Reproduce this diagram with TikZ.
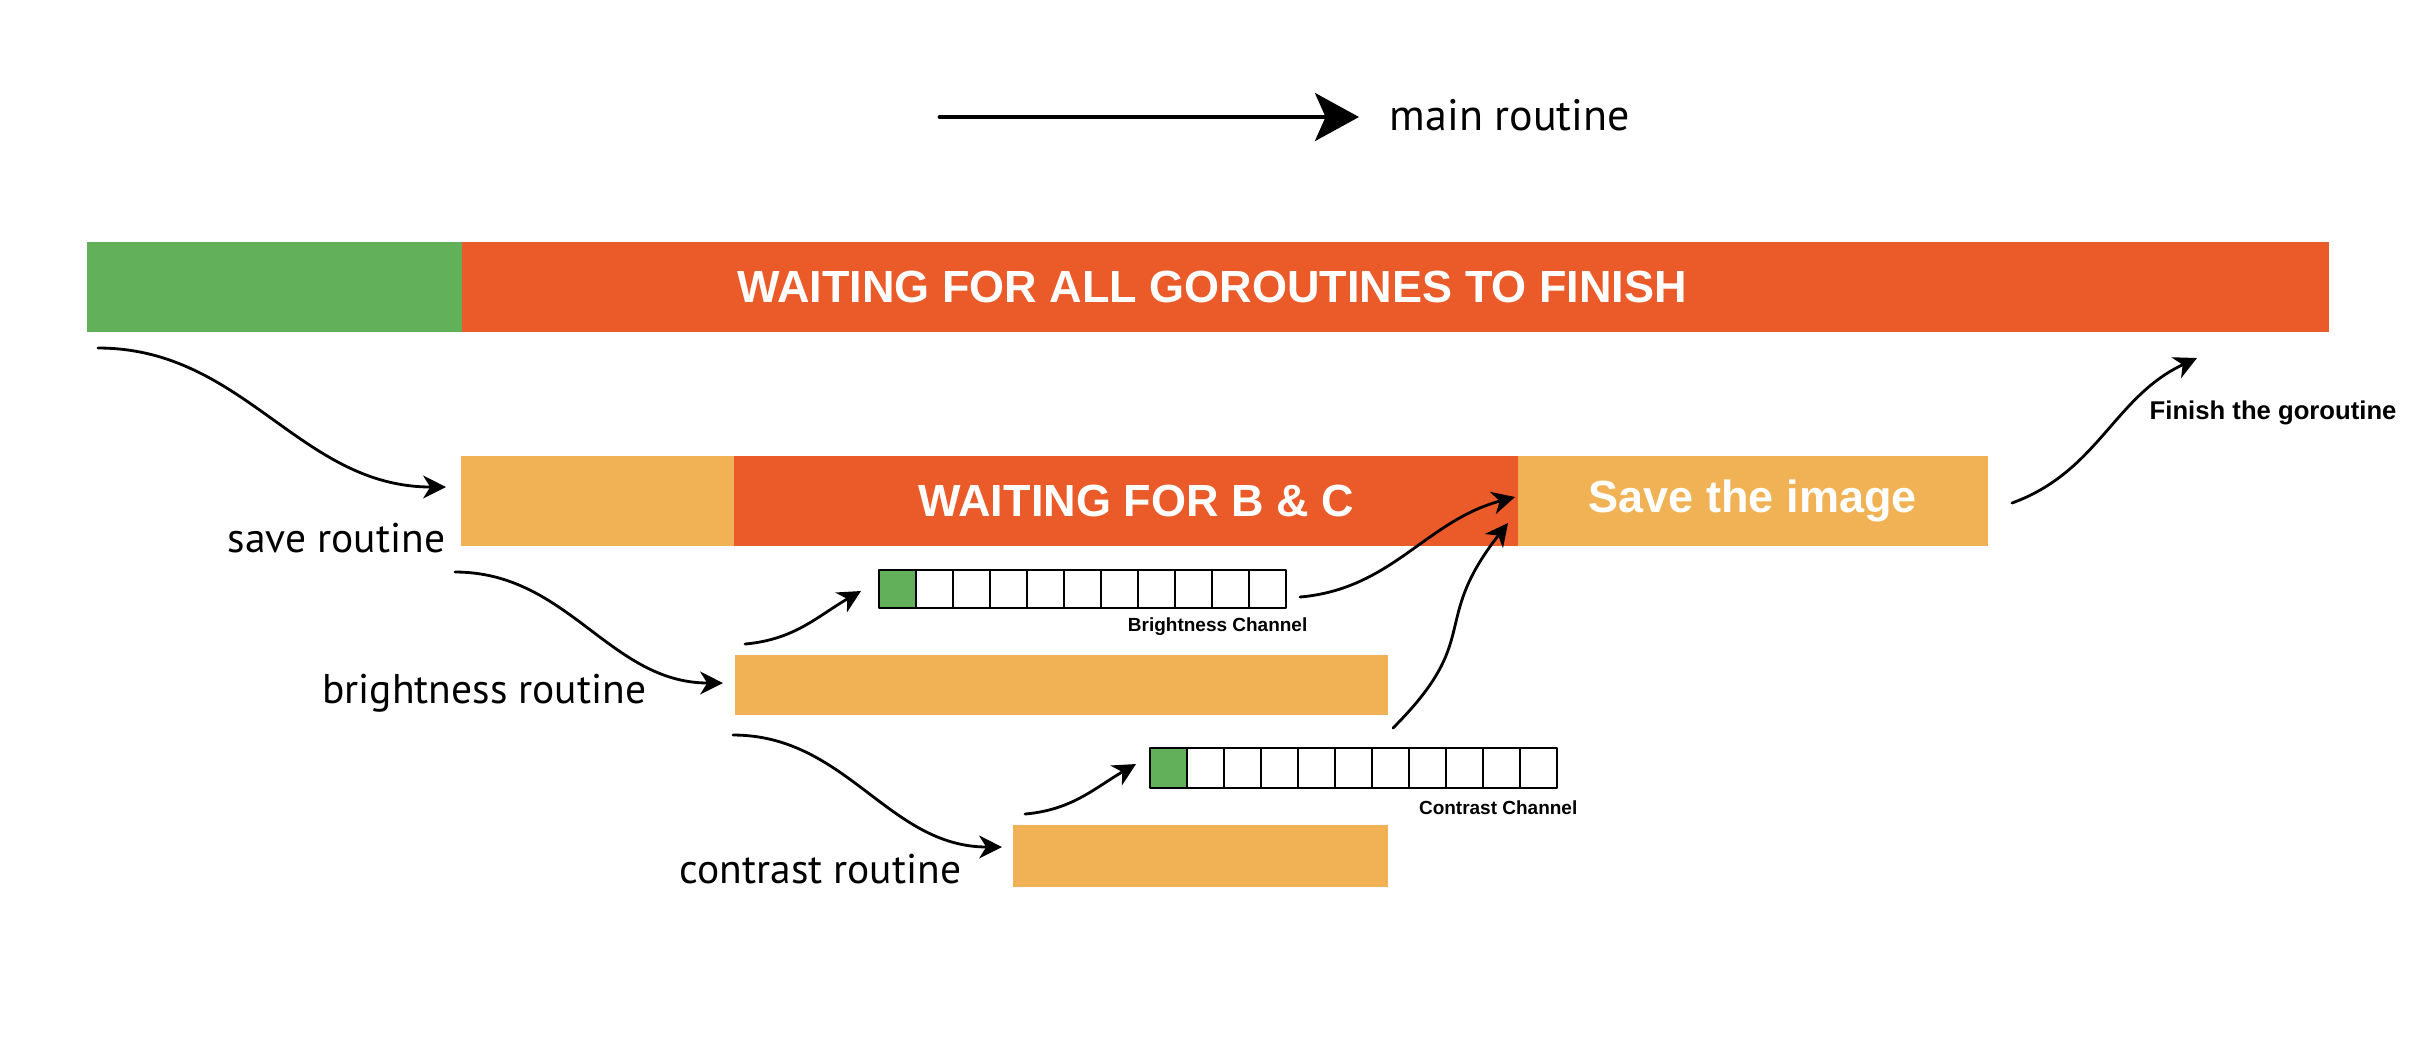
\documentclass[tikz,border=0pt]{standalone}
\usepackage{fontspec}
\setmainfont{PT Sans}
\newfontfamily\helv{Liberation Sans}
\usetikzlibrary{arrows.meta}
\definecolor{goGreen}{RGB}{98,177,90}
\definecolor{goRed}{RGB}{235,90,41}
\definecolor{goOrange}{RGB}{240,178,84}
\tikzset{
  bar/.style={anchor=north west, inner sep=0pt, outer sep=0pt, minimum height=#1},
  bartext/.style={text=white, font=\helv\bfseries\fontsize{12.8}{14}\selectfont},
  routine/.style={inner sep=0pt, font=\fontsize{11.8}{14}\selectfont},
  chlabel/.style={inner sep=0pt, font=\helv\bfseries\fontsize{5.4}{6}\selectfont},
  cell/.style={line width=0.55pt},
  flow/.style={line width=0.8pt, -{Stealth[length=6.5pt, width=6.5pt, inset=2pt]}}
}
\begin{document}
\begin{tikzpicture}[x=0.01cm, y=0.01cm, line cap=round, line join=round]
\useasboundingbox (0,0) rectangle (2428,-1044);
% main routine legend
\node[routine, font=\fontsize{12.5}{15}\selectfont, anchor=base west] (mainlbl) at (1389,-130) {main routine};
\coordinate (mainS) at (940,-117);
\coordinate (mainE) at (1359,-117);
\draw[line width=1.4pt, -{Stealth[length=12.5pt, width=13.6pt, inset=3pt]}] (mainS)--(mainE);
% main goroutine
\node[bar=0.9cm, fill=goGreen, minimum width=3.75cm] (mainrun) at (87,-242) {};
\node[bar=0.9cm, fill=goRed, minimum width=18.66cm] (mainwait) at (mainrun.north east) {};
\node[bartext] (waitall) at (1212,-287) {WAITING FOR ALL GOROUTINES TO FINISH};
% save routine
\node[bar=0.9cm, fill=goOrange, minimum width=2.73cm] (saverun) at (461,-456) {};
\node[bar=0.9cm, fill=goRed, minimum width=7.83cm] (savewait) at (saverun.north east) {};
\node[bartext] (waitbc) at (1136,-501) {WAITING FOR B \& C};
\node[bar=0.9cm, fill=goOrange, minimum width=4.70cm, bartext] (savedo) at (savewait.north east) {Save the image};
\node[routine, anchor=base east] (savelbl) at (446,-552) {save routine};
% brightness and contrast routines
\node[bar=0.6cm, fill=goOrange, minimum width=6.53cm] (brightrun) at (735,-655) {};
\node[routine, anchor=base east] (brightlbl) at (647,-703) {brightness routine};
\node[bar=0.62cm, fill=goOrange, minimum width=3.75cm] (contrastrun) at (1013,-825) {};
\node[routine, anchor=base east] (contrastlbl) at (962,-883) {contrast routine};
% channels
\fill[goGreen] (879,-570) rectangle ++(37,-38);
\foreach \k in {0,...,10} \draw[cell] (879+37*\k,-570) rectangle ++(37,-38);
\node[chlabel, anchor=east] (bchlbl) at (1308,-627) {Brightness Channel};
\fill[goGreen] (1150,-748) rectangle ++(37,-40);
\foreach \k in {0,...,10} \draw[cell] (1150+37*\k,-748) rectangle ++(37,-40);
\node[chlabel, anchor=east] (cchlbl) at (1578,-808) {Contrast Channel};
\node[inner sep=0pt, anchor=west, font=\helv\bfseries\fontsize{7.3}{9}\selectfont] (finlbl) at (2149,-413) {Finish the goroutine};
% flow arrows
\coordinate (mainout) at (98,-348);
\coordinate (savein) at (446,-487);
\coordinate (saveout) at (455,-572);
\coordinate (brightin) at (723,-683);
\coordinate (brightout) at (733,-735);
\coordinate (contrastin) at (1002,-847);
\coordinate (bsend) at (745,-644);
\coordinate (bchin) at (861,-591);
\coordinate (csend) at (1025,-814);
\coordinate (cchin) at (1136,-764);
\coordinate (bchout) at (1300,-597);
\coordinate (cchout) at (1393,-728);
\coordinate (savebin) at (1515,-497);
\coordinate (savecin) at (1508,-523);
\coordinate (saveend) at (2012,-503);
\coordinate (finish) at (2197,-358);
\draw[flow] (mainout) to[out=0, in=180] (savein);
\draw[flow] (saveout) to[out=0, in=180] (brightin);
\draw[flow] (brightout) to[out=0, in=180] (contrastin);
\draw[flow] (bsend) to[out=5, in=210] (bchin);
\draw[flow] (csend) to[out=5, in=210] (cchin);
\draw[flow] (bchout) to[out=5, in=195] (savebin);
\draw[flow] (cchout) to[out=45, in=232, looseness=1.4] (savecin);
\draw[flow] (saveend) to[out=20, in=205] (finish);
\end{tikzpicture}
\end{document}
